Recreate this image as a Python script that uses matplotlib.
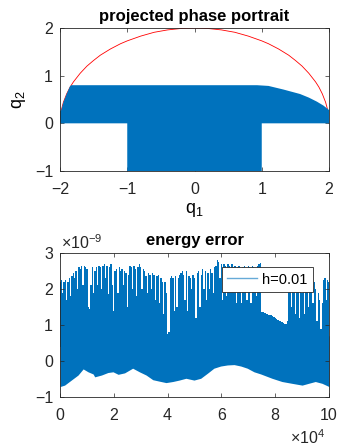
import matplotlib
matplotlib.use('Agg')
import matplotlib.pyplot as plt
import numpy as np
from matplotlib.lines import Line2D

plt.rcParams['font.family'] = ['Liberation Sans', 'DejaVu Sans']
plt.rcParams['mathtext.fontset'] = 'custom'
plt.rcParams['mathtext.rm'] = 'Liberation Sans'
plt.rcParams['mathtext.it'] = 'Liberation Sans:italic'

BLUE = '#0072BD'
GRAY = '#262626'

# --- top: projected phase portrait ---
# red reference curve
curve_q1 = [-2.0, -1.98, -1.95, -1.9, -1.85, -1.8, -1.7, -1.6, -1.5, -1.4, -1.25, -1.1, -1.0,
            -0.8, -0.6, -0.4, -0.2, 0.0, 0.2, 0.4, 0.6, 0.8, 1.0, 1.1, 1.25, 1.4, 1.5, 1.6,
            1.7, 1.8, 1.85, 1.9, 1.95, 1.98, 2.0]
curve_q2 = [0.0, 0.28, 0.44, 0.62, 0.76, 0.87, 1.05, 1.2, 1.32, 1.43, 1.56, 1.67, 1.73,
            1.83, 1.91, 1.96, 1.99, 2.0, 1.99, 1.96, 1.91, 1.83, 1.73, 1.67, 1.56, 1.43, 1.32, 1.2,
            1.05, 0.87, 0.76, 0.62, 0.44, 0.28, 0.0]

# outline of the region covered by the trajectory
region_q1 = [-2.0, -2.0, -1.98, -1.95, -1.9, -1.85, -1.83, 0.93, 1.1, 1.32, 1.57, 1.7, 1.82,
             1.92, 2.0, 2.0, 1.0, 1.0, -1.0, -1.0]
region_q2 = [0.0, 0.25, 0.28, 0.44, 0.62, 0.78, 0.8, 0.8, 0.785, 0.71, 0.615, 0.54, 0.455,
             0.37, 0.28, 0.0, 0.0, -1.0, -1.0, 0.0]

# --- bottom: energy error (x in 1e4, y in 1e-9) ---
low_x = [0.0, 0.17, 0.42, 0.67, 0.86, 1.04, 1.23, 1.29, 1.54, 1.78, 1.97, 2.16, 2.4, 2.7,
         2.95, 3.2, 3.45, 3.69, 3.94, 4.19, 4.43, 4.68, 4.98, 5.23, 5.48, 5.72, 5.97, 6.22,
         6.47, 6.72, 6.96, 7.21, 7.46, 7.88, 8.25, 8.62, 9.0, 9.24, 9.49, 9.74, 10.0]
low_y = [-0.71, -0.67, -0.53, -0.39, -0.22, -0.3, -0.36, -0.44, -0.39, -0.32, -0.3, -0.37,
         -0.33, -0.2, -0.3, -0.39, -0.52, -0.56, -0.6, -0.57, -0.53, -0.48, -0.53, -0.48,
         -0.34, -0.2, -0.14, -0.11, -0.1, -0.14, -0.2, -0.3, -0.36, -0.48, -0.57, -0.62,
         -0.67, -0.62, -0.57, -0.62, -0.71]

# upper edge of the oscillation, sampled every 0.05e4 from 0 to 10e4
upper = [2.2, 2.25, 1.9, 2.2, 2.25, 1.7, 2.2, 2.3, 1.8, 2.35, 2.45, 2.3, 2.5, 2.0, 2.6, 2.55, 2.65, 2.1, 2.65, 2.6,
         2.55, 1.5, 1.45, 2.1, 2.6, 1.9, 2.5, 2.6, 2.1, 2.65, 2.6, 2.0, 2.65, 2.7, 2.3, 2.65, 1.85, 2.6, 2.7, 2.1,
         1.4, 2.5, 2.55, 1.9, 2.6, 2.5, 2.55, 2.1, 2.5, 2.45, 1.5, 2.4, 2.65, 2.6, 2.0, 2.65, 2.55, 1.8, 2.6, 2.7,
         2.6, 2.0, 2.55, 2.5, 2.35, 1.9, 2.45, 2.4, 2.0, 2.45, 2.4, 1.7, 2.35, 2.4, 1.6, 2.3, 2.2, 1.3, 2.2, 1.9,
         0.75, 0.8, 2.3, 2.35, 2.3, 1.4, 2.35, 1.5, 2.3, 2.4, 2.45, 2.5, 2.4, 1.7, 2.5, 1.4, 2.35, 2.3, 2.0, 2.4,
         2.3, 1.2, 2.45, 2.5, 1.5, 2.4, 2.55, 2.0, 2.5, 1.7, 2.45, 2.0, 2.55, 2.45, 1.9, 2.6, 2.65, 2.8, 2.75, 2.3,
         2.7, 1.7, 2.7, 2.65, 1.8, 2.7, 2.65, 2.0, 2.7, 2.6, 2.65, 1.6, 2.6, 2.65, 2.55, 1.6, 2.6, 2.65, 2.5, 1.7,
         2.65, 2.6, 1.6, 2.65, 2.6, 2.55, 1.8, 2.65, 2.7, 2.72, 1.37, 1.35, 1.33, 1.32, 1.3, 1.29, 1.28, 1.27, 1.25, 1.22,
         1.2, 1.18, 1.15, 1.12, 1.1, 1.08, 1.05, 1.03, 1.02, 1.1, 2.25, 2.2, 1.5, 2.25, 2.1, 1.3, 2.15, 2.0, 1.2, 2.1,
         1.9, 2.0, 1.3, 1.95, 2.0, 1.5, 2.1, 2.25, 1.6, 2.2, 2.0, 1.1, 1.9, 1.7, 0.9, 1.6, 2.25, 2.3, 1.7, 2.25,
         2.2]
upper_x = np.linspace(0, 10, len(upper))


def matlab_style(ax):
    for s in ax.spines.values():
        s.set_color(GRAY)
        s.set_linewidth(0.6)
    ax.tick_params(direction='in', top=True, right=True, length=3, width=0.5,
                   colors=GRAY, labelsize=11.5, labelcolor=GRAY)
    ax.tick_params(axis='x', pad=8)
    ax.tick_params(axis='y', pad=5)


fig = plt.figure(figsize=(3.44, 4.48), dpi=100)
ax1 = fig.add_axes([60/344, 1-171/448, 269/344, 143/448])
ax2 = fig.add_axes([60/344, 1-397/448, 269/344, 144/448])

ax1.plot(curve_q1, curve_q2, color='red', lw=0.6, zorder=1)
ax1.fill(region_q1, region_q2, color=BLUE, lw=0, zorder=2)
ax1.set_xlim(-2, 2)
ax1.set_ylim(-1, 2)
ax1.set_xticks([-2, -1, 0, 1, 2])
ax1.set_yticks([-1, 0, 1, 2])
ax1.set_xlabel(r'$\mathregular{q_1}$', fontsize=13, labelpad=3)
ax1.set_ylabel(r'$\mathregular{q_2}$', fontsize=13, labelpad=5)
ax1.set_title('projected phase portrait', fontweight='bold', fontsize=12, pad=5)
matlab_style(ax1)

ax2.fill_between(low_x, low_y, 0.7, color=BLUE, lw=0)
ax2.fill_between(upper_x, 0.4, upper, step='mid', color=BLUE, lw=0)
ax2.set_xlim(0, 10)
ax2.set_ylim(-1, 3)
ax2.set_xticks([0, 2, 4, 6, 8, 10])
ax2.set_yticks([-1, 0, 1, 2, 3])
ax2.set_title('energy error', fontweight='bold', fontsize=12, pad=6)
ax2.text(0.004, 1.025, r'$\mathregular{\times10^{-9}}$', transform=ax2.transAxes,
         fontsize=11.5, color=GRAY, ha='left', va='baseline')
ax2.text(0.985, -0.325, r'$\mathregular{\times10^{4}}$', transform=ax2.transAxes,
         fontsize=11.5, color=GRAY, ha='right', va='baseline')
handle = Line2D([], [], color=BLUE, lw=1, alpha=0.6)
leg = ax2.legend([handle], ['h=0.01'], loc='upper right', bbox_to_anchor=(0.94, 0.9),
                 fancybox=False, framealpha=1, edgecolor=GRAY, fontsize=10.5,
                 handlelength=2.0, handletextpad=0.4, borderpad=0.35, borderaxespad=0)
leg.get_frame().set_linewidth(0.6)
matlab_style(ax2)

fig.savefig('out.png', dpi=100)
